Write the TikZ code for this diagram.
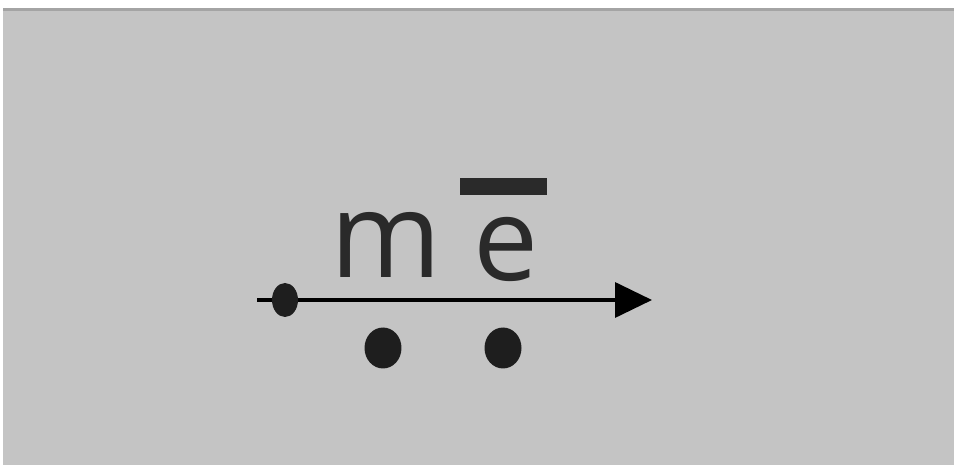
\documentclass[tikz,border=0pt]{standalone}
\usepackage{fontspec}
\setmainfont{Open Sans}
\usetikzlibrary{arrows.meta, shapes.geometric}
\definecolor{bggray}{HTML}{C4C4C4}
\definecolor{edgegray}{HTML}{A4A4A4}
\definecolor{inkgray}{HTML}{2A2A2A}
\definecolor{dotgray}{HTML}{1E1E1E}
\tikzset{
  dot/.style={ellipse, fill=dotgray, inner sep=0pt},
  letter/.style={text=inkgray, inner sep=0pt, anchor=base},
}
\begin{document}
\begin{tikzpicture}[x=0.02cm, y=-0.02cm]
  \useasboundingbox (0,0) rectangle (954,465);
  \fill[white] (0,0) rectangle (954,465);
  \fill[bggray] (3,8) rectangle (954,465);
  \fill[edgegray] (3,8) rectangle (954,11);
  % letters
  \node[letter, font=\fontsize{68}{68}\selectfont] (m) at (386,278) {m};
  \node[letter, font=\fontsize{66}{66}\selectfont] (e) at (506,281) {e};
  \fill[inkgray] (460,178) rectangle (547,195);
  % axis with dots
  \coordinate (start) at (257,300);
  \coordinate (end) at (652,300);
  \draw[line width=0.07cm, -{Triangle[length=0.74cm, width=0.7cm]}] (start) -- (end);
  \node[dot, minimum width=0.52cm, minimum height=0.68cm] (p0) at (285,300) {};
  \node[dot, minimum width=0.74cm, minimum height=0.82cm] (p1) at (383,348) {};
  \node[dot, minimum width=0.74cm, minimum height=0.82cm] (p2) at (503,348) {};
\end{tikzpicture}
\end{document}
